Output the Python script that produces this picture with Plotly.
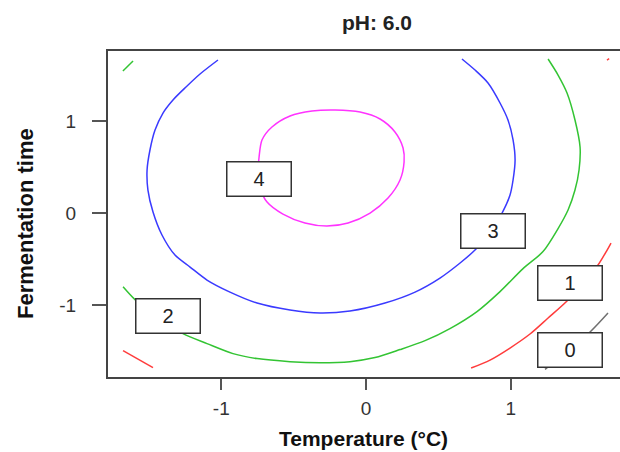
import plotly.graph_objects as go

# Contour levels and their colours
levels = [0, 1, 2, 3, 4]
level_colors = ["#707070", "#ff3c3c", "#33c433", "#3a3aff", "#ff33ff"]

# Traced contour lines (coded units); None separates segments of the same level
level4_x = [-0.739, -0.719, -0.650, -0.525, -0.373, -0.214, -0.041, 0.097, 0.200, 0.256, 0.263,
            0.235, 0.152, 0.028, -0.124, -0.270, -0.422, -0.574, -0.684, -0.733, -0.746, -0.739]
level4_y = [0.612, 0.797, 0.938, 1.058, 1.112, 1.123, 1.101, 1.025, 0.884, 0.710, 0.558,
            0.362, 0.166, 0.003, -0.105, -0.138, -0.105, -0.008, 0.123, 0.275, 0.449, 0.612]

level3_x = [-1.023, -1.147, -1.244, -1.334, -1.403, -1.458, -1.493, -1.513, -1.507, -1.472, -1.410,
            -1.320, -1.216, -1.099, -0.940, -0.753, -0.525, -0.318, -0.111, 0.131, 0.339, 0.511,
            0.650, 0.753, 0.857, 0.940, 0.995, 1.016, 1.030, 1.016, 0.981, 0.926, 0.843, 0.753, 0.663]
level3_y = [1.666, 1.514, 1.373, 1.232, 1.090, 0.905, 0.688, 0.471, 0.253, 0.014, -0.236,
            -0.454, -0.584, -0.725, -0.856, -0.975, -1.051, -1.084, -1.062, -0.975, -0.856, -0.704,
            -0.540, -0.399, -0.214, 0.003, 0.199, 0.362, 0.579, 0.797, 1.014, 1.199, 1.416, 1.557, 1.677]

level2_x = [-1.680, -1.610, None,
            -1.679, -1.596, -1.458, -1.265, -1.099, -0.919, -0.753, -0.525, -0.318, -0.111, 0.062,
            0.235, 0.408, 0.580, 0.767, 0.926, 1.085, 1.223, 1.327, 1.396, 1.444, 1.472, 1.479,
            1.444, 1.389, 1.327, 1.258]
level2_y = [1.547, 1.655, None,
            -0.797, -0.938, -1.123, -1.308, -1.416, -1.525, -1.579, -1.612, -1.623, -1.612, -1.568,
            -1.481, -1.384, -1.253, -1.068, -0.851, -0.601, -0.416, -0.166, 0.036, 0.253, 0.471, 0.721,
            1.014, 1.308, 1.503, 1.677]

level1_x = [-1.679, -1.472, None,
            0.726, 0.857, 0.995, 1.133, 1.258, 1.389, 1.500, 1.603, 1.666, 1.693, None,
            1.665, 1.680]
level1_y = [-1.493, -1.677, None,
            -1.682, -1.595, -1.464, -1.312, -1.138, -0.953, -0.758, -0.562, -0.399, -0.323, None,
            1.665, 1.680]

level0_x = [1.237, 1.410, 1.548, 1.672]
level0_y = [-1.697, -1.470, -1.290, -1.084]

x_ticks = [-1, 0, 1]
x_tick_labels = ["-1", "0", "1"]
y_ticks = [-1, 0, 1]
y_tick_labels = ["-1", "0", "1"]

lines = {0: (level0_x, level0_y), 1: (level1_x, level1_y), 2: (level2_x, level2_y),
         3: (level3_x, level3_y), 4: (level4_x, level4_y)}

FONT = "Liberation Sans, Arial"

fig = go.Figure()
for lev, col in zip(levels, level_colors):
    xs, ys = lines[lev]
    fig.add_trace(go.Scatter(x=xs, y=ys, mode="lines", connectgaps=False,
                             line=dict(color=col, width=1.5, shape="spline", smoothing=0.8),
                             hoverinfo="skip", showlegend=False))

# contour labels (level, x, y)
label_pos = [(4, -0.739, 0.373), (3, 0.874, -0.192), (2, -1.365, -1.116),
             (1, 1.410, -0.758), (0, 1.410, -1.486)]
for lev, lx, ly in label_pos:
    fig.add_annotation(x=lx, y=ly, xref="x", yref="y", text=str(lev), showarrow=False,
                       xanchor="center", yanchor="middle", width=63, height=33,
                       bgcolor="white", bordercolor="#333333", borderwidth=1.5, borderpad=0,
                       font=dict(family=FONT, size=20, color="#222222"))

W, H = 620, 452
L, R, T, B = 108, 0, 51, 75
pw, ph = W - L - R, H - T - B

def px_x(p):
    return (p - L) / pw

def px_y(p):
    return (H - B - p) / ph

fig.add_annotation(x=px_x(377), y=px_y(22), xref="paper", yref="paper",
                   text="<b>pH: 6.0</b>", showarrow=False, xanchor="center", yanchor="middle",
                   borderpad=0, font=dict(family=FONT, size=21, color="#222222"))
fig.add_annotation(x=px_x(363), y=px_y(438), xref="paper", yref="paper",
                   text="<b>Temperature (°C)</b>", showarrow=False, xanchor="center", yanchor="middle",
                   borderpad=0, font=dict(family=FONT, size=21, color="#111111"))
fig.add_annotation(x=px_x(25), y=px_y(224), xref="paper", yref="paper", textangle=-90,
                   text="<b>Fermentation time</b>", showarrow=False, xanchor="center", yanchor="middle",
                   borderpad=0, font=dict(family=FONT, size=22, color="#111111"))

fig.update_layout(
    width=W, height=H, margin=dict(l=L, r=R, t=T, b=B, pad=0),
    paper_bgcolor="white", plot_bgcolor="white", showlegend=False,
    xaxis=dict(range=[-1.783, 1.755], tickvals=x_ticks, ticktext=x_tick_labels,
               ticks="outside", ticklen=11,
               tickwidth=2, tickcolor="#555555", showline=True, linecolor="#444444", linewidth=2,
               mirror=True, showgrid=False, zeroline=False, ticklabelstandoff=2,
               tickfont=dict(family=FONT, size=19, color="#333333")),
    yaxis=dict(range=[-1.779, 1.764], tickvals=y_ticks, ticktext=y_tick_labels,
               ticks="outside", ticklen=14,
               tickwidth=2, tickcolor="#555555", showline=True, linecolor="#444444", linewidth=2,
               mirror=False, showgrid=False, zeroline=False, ticklabelstandoff=12,
               tickfont=dict(family=FONT, size=19, color="#333333")),
)

fig.write_html("out.html", config={"displayModeBar": False},
               post_script="document.body.style.margin='0';document.body.style.overflow='hidden';")
